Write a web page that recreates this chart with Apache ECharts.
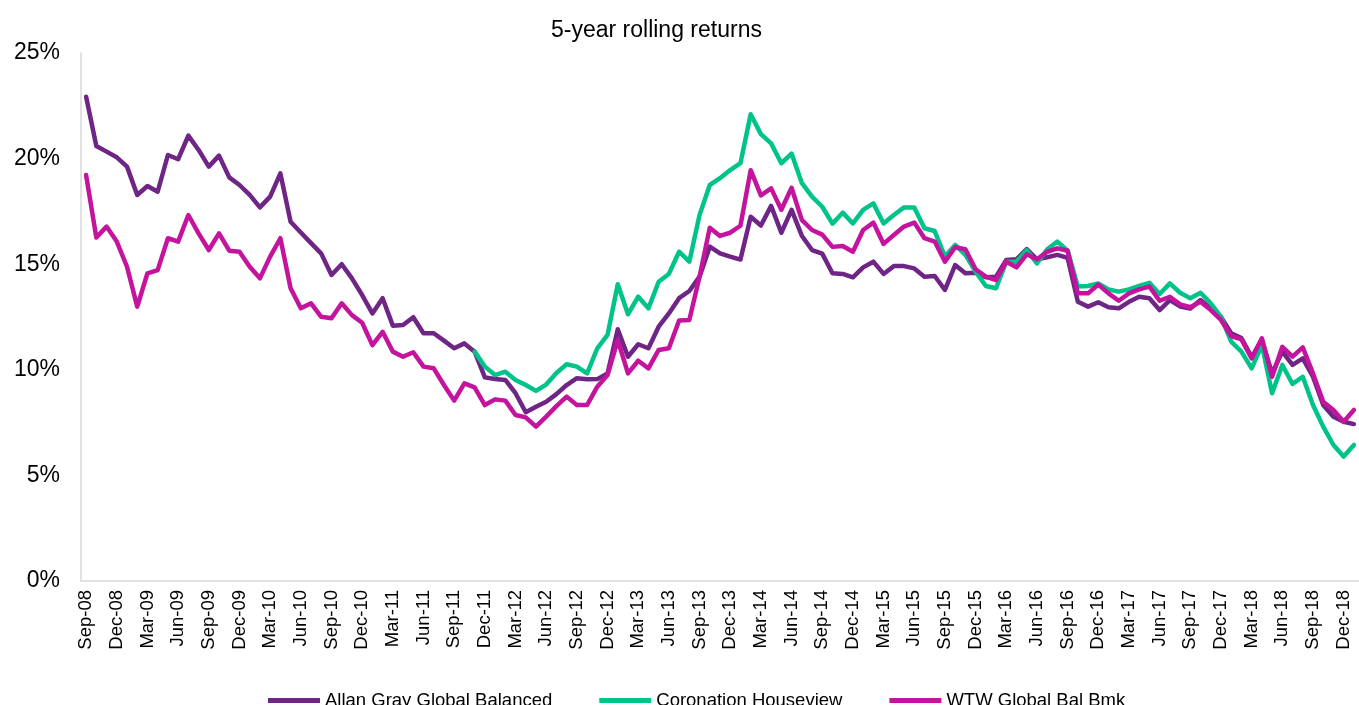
<!DOCTYPE html>
<html lang="en">
<head>
<meta charset="utf-8" />
<title>5-year rolling returns</title>
<script src="https://cdn.jsdelivr.net/npm/echarts@6/dist/echarts.min.js"></script>
<style>
  html, body { margin: 0; padding: 0; background: #fff; }
</style>
</head>
<body>
<div id="main" style="width: 1359px;height:705px;"></div>

<script>
    // months from Sep-08 to Jan-19
    var monthNames = ['Jan', 'Feb', 'Mar', 'Apr', 'May', 'Jun', 'Jul', 'Aug', 'Sep', 'Oct', 'Nov', 'Dec'];
    var months = [];
    for (var k = 0; k < 125; k++) {
        var m = (8 + k) % 12;
        var y = 8 + Math.floor((8 + k) / 12);
        months.push(monthNames[m] + '-' + (y < 10 ? '0' + y : y));
    }

    // Allan Gray Global Balanced
    var allanGray = [
        22.93, 20.60, 20.33, 20.06, 19.62, 18.28, 18.70, 18.43, 20.17, 19.97,
        21.09, 20.41, 19.62, 20.14, 19.11, 18.75, 18.28, 17.69, 18.20, 19.30,
        17.01, 16.50, 16.00, 15.50, 14.49, 15.00, 14.33, 13.54, 12.67, 13.39,
        12.09, 12.12, 12.49, 11.73, 11.73, 11.38, 11.02, 11.25, 10.86, 9.64,
        9.56, 9.52, 8.89, 7.99, 8.25, 8.49, 8.85, 9.28, 9.60, 9.55,
        9.56, 9.83, 11.92, 10.62, 11.21, 11.02, 12.04, 12.67, 13.39, 13.73,
        14.41, 15.83, 15.51, 15.36, 15.22, 17.25, 16.83, 17.76, 16.49, 17.57,
        16.35, 15.67, 15.50, 14.57, 14.54, 14.38, 14.85, 15.12, 14.54, 14.91,
        14.91, 14.80, 14.41, 14.44, 13.78, 14.96, 14.57, 14.60, 14.38, 14.41,
        15.20, 15.23, 15.71, 15.23, 15.33, 15.44, 15.30, 13.22, 12.99, 13.20,
        12.96, 12.91, 13.22, 13.46, 13.39, 12.83, 13.30, 13.00, 12.90, 13.30,
        12.90, 12.50, 11.73, 11.50, 10.60, 11.40, 9.83, 10.86, 10.23, 10.54,
        9.67, 8.33, 7.78, 7.54, 7.43
    ];

    // Coronation Houseview (starts Nov-11)
    var coronation = [
        null, null, null, null, null, null, null, null, null, null,
        null, null, null, null, null, null, null, null, null, null,
        null, null, null, null, null, null, null, null, null, null,
        null, null, null, null, null, null, null, null, 10.86, 10.15,
        9.75, 9.91, 9.52, 9.28, 9.00, 9.30, 9.85, 10.26, 10.15, 9.83,
        11.02, 11.65, 14.05, 12.63, 13.46, 12.91, 14.17, 14.54, 15.59, 15.12,
        17.33, 18.75, 19.07, 19.46, 19.78, 22.10, 21.16, 20.72, 19.78, 20.24,
        18.85, 18.20, 17.72, 16.92, 17.44, 16.93, 17.57, 17.88, 16.93, 17.33,
        17.69, 17.69, 16.70, 16.57, 15.36, 15.91, 15.44, 14.65, 13.97, 13.86,
        15.12, 15.12, 15.67, 15.04, 15.71, 16.07, 15.64, 13.94, 13.97, 14.09,
        13.81, 13.70, 13.81, 13.97, 14.12, 13.59, 14.09, 13.65, 13.39, 13.65,
        13.15, 12.51, 11.33, 10.86, 10.07, 11.17, 8.89, 10.23, 9.33, 9.67,
        8.33, 7.31, 6.44, 5.89, 6.44
    ];

    // WTW Global Bal Bmk
    var wtw = [
        19.22, 16.26, 16.78, 16.07, 14.88, 12.99, 14.57, 14.72, 16.23, 16.07,
        17.33, 16.46, 15.67, 16.46, 15.64, 15.59, 14.88, 14.33, 15.36, 16.23,
        13.86, 12.91, 13.15, 12.51, 12.44, 13.15, 12.59, 12.23, 11.17, 11.80,
        10.86, 10.62, 10.83, 10.15, 10.07, 9.28, 8.54, 9.36, 9.17, 8.33,
        8.60, 8.54, 7.86, 7.75, 7.31, 7.78, 8.28, 8.73, 8.33, 8.33,
        9.20, 9.75, 11.41, 9.83, 10.43, 10.07, 10.94, 11.02, 12.33, 12.36,
        14.41, 16.73, 16.34, 16.49, 16.82, 19.45, 18.26, 18.59, 17.58, 18.62,
        17.10, 16.62, 16.40, 15.82, 15.86, 15.59, 16.62, 16.97, 15.96, 16.38,
        16.78, 16.97, 16.23, 16.07, 15.12, 15.80, 15.71, 14.76, 14.41, 14.25,
        15.12, 14.85, 15.47, 15.23, 15.59, 15.75, 15.64, 13.62, 13.62, 14.04,
        13.62, 13.27, 13.62, 13.81, 13.94, 13.27, 13.46, 13.10, 12.96, 13.22,
        12.83, 12.36, 11.60, 11.44, 10.54, 11.49, 9.67, 11.09, 10.62, 11.06,
        9.83, 8.49, 8.10, 7.54, 8.10
    ];

    var seriesNames = ['Allan Gray Global Balanced', 'Coronation Houseview', 'WTW Global Bal Bmk'];
    var colors = ['#6E2585', '#00C389', '#C4139D'];

    var myChart = echarts.init(document.getElementById('main'));

    function lineSeries(name, data, color) {
        return {
            name: name,
            type: 'line',
            data: data,
            showSymbol: false,
            symbol: 'none',
            connectNulls: false,
            lineStyle: { width: 4.5, color: color, join: 'round', cap: 'round' },
            itemStyle: { color: color },
            animation: false
        };
    }

    var option = {
        backgroundColor: '#fff',
        textStyle: { fontFamily: 'Liberation Sans, Arial, sans-serif' },
        title: {
            text: '5-year rolling returns',
            left: 546,
            top: 14,
            textStyle: { fontFamily: 'Liberation Sans', fontSize: 23, fontWeight: 'normal', color: '#000' }
        },
        legend: {
            data: seriesNames,
            left: 263,
            top: 686,
            itemWidth: 52,
            itemHeight: 5,
            itemGap: 47,
            icon: 'rect',
            textStyle: { fontFamily: 'Liberation Sans', fontSize: 18.5, color: '#000' }
        },
        grid: {
            left: 81,
            right: 0,
            top: 53,
            bottom: 124,
            containLabel: false
        },
        xAxis: {
            type: 'category',
            data: months,
            boundaryGap: true,
            axisLine: { lineStyle: { color: '#D9D9D9', width: 1.5 } },
            axisTick: { show: false },
            axisLabel: {
                interval: 2,
                rotate: 90,
                margin: 9,
                fontFamily: 'Liberation Sans',
                fontSize: 18.5,
                color: '#000'
            },
            splitLine: { show: false }
        },
        yAxis: {
            type: 'value',
            min: 0,
            max: 25,
            interval: 5,
            axisLine: { show: true, lineStyle: { color: '#D9D9D9', width: 1.5 } },
            axisTick: { show: false },
            splitLine: { show: false },
            axisLabel: {
                formatter: '{value}%',
                margin: 21,
                fontFamily: 'Liberation Sans',
                fontSize: 23,
                color: '#000'
            }
        },
        series: [
            lineSeries(seriesNames[0], allanGray, colors[0]),
            lineSeries(seriesNames[1], coronation, colors[1]),
            lineSeries(seriesNames[2], wtw, colors[2])
        ]
    };

    myChart.setOption(option);
</script>
</body>
</html>
